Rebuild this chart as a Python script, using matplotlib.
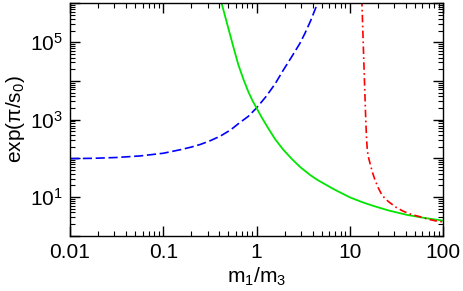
import numpy as np
import matplotlib
matplotlib.use("Agg")
import matplotlib.pyplot as plt
from matplotlib.ticker import LogLocator, FuncFormatter, NullFormatter

plt.rcParams['font.family'] = ['Liberation Sans', 'DejaVu Sans']
plt.rcParams['mathtext.fontset'] = 'custom'
plt.rcParams['mathtext.rm'] = 'Liberation Sans'
plt.rcParams['mathtext.it'] = 'Liberation Sans'

# Dados
x_azul = [0.01, 0.0178, 0.0316, 0.0562, 0.1, 0.151, 0.2, 0.251, 0.316, 0.407,
          0.525, 0.66, 0.813, 1.0, 1.26, 1.58, 1.94, 2.38, 2.92, 3.31, 3.80,
          4.42, 4.62]
y_azul = [98, 100, 105, 115, 135, 166, 195, 229, 282, 372,
          537, 832, 1202, 1995, 3890, 8320, 19050, 41700, 93300, 170000, 355000,
          891000, 1.17e6]

x_verde = [0.407, 0.423, 0.468, 0.520, 0.575, 0.638, 0.724, 0.817, 0.902, 1.0,
           1.148, 1.34, 1.578, 1.94, 2.40, 2.92, 3.75, 4.52, 5.43, 6.53, 7.85,
           10.07, 13.5, 17.9, 26.3, 40.7, 63.1, 93.3, 100]
y_verde = [1.38e6, 1.0e6, 4.07e5, 1.58e5, 6.46e4, 2.63e4, 1.10e4, 5250, 3160, 1995,
           1096, 589, 316, 166, 95.5, 60.3, 37.2, 27.5, 21.4, 16.6, 13.2,
           9.77, 7.41, 5.89, 4.47, 3.47, 2.88, 2.51, 2.45]

x_verm = [13.40, 13.52, 13.96, 14.39, 14.68, 14.90, 15.12, 15.40, 15.80, 16.48,
          17.50, 18.66, 20.18, 22.03, 24.27, 27.04, 31.6, 37.6, 45.7, 56.6,
          70.8, 89.1, 100]
y_verm = [1.58e6, 1.0e6, 89100, 9550, 2200, 800, 350, 170, 110, 75,
          43.7, 27.5, 17.4, 11.5, 8.71, 7.08, 5.37, 4.27, 3.55, 3.09,
          2.63, 2.34, 2.29]

fig = plt.figure(figsize=(4.63, 2.91), dpi=100)
ax = fig.add_axes([0.1512, 0.190, 0.8056, 0.798])

ax.plot(x_azul, y_azul, color='#0000ff', lw=1.2, ls=(0, (5.5, 2.2)))
ax.plot(x_verde, y_verde, color='#00e600', lw=1.3)
ax.plot(x_verm, y_verm, color='#ff0000', lw=1.2, ls=(0, (4.5, 2, 1, 2)))

ax.set_xscale('log')
ax.set_yscale('log')
ax.set_xlim(0.01, 100)
ax.set_ylim(1, 1e6)

ax.xaxis.set_major_locator(LogLocator(base=10, numticks=10))
ax.xaxis.set_minor_locator(LogLocator(base=10, subs=np.arange(2, 10), numticks=50))
ax.xaxis.set_major_formatter(FuncFormatter(lambda v, p: {0.01: '0.01', 0.1: '0.1', 1: '1', 10: '10', 100: '100'}.get(round(v, 4), '')))
ax.xaxis.set_minor_formatter(NullFormatter())

ax.yaxis.set_major_locator(LogLocator(base=10, numticks=10))
ax.yaxis.set_minor_locator(LogLocator(base=10, subs=np.arange(2, 10), numticks=50))

def rotulo_y(v, p):
    e = int(round(np.log10(v)))
    if e % 2 == 1:
        return r'$10^{%d}$' % e
    return ''

ax.yaxis.set_major_formatter(FuncFormatter(rotulo_y))
ax.yaxis.set_minor_formatter(NullFormatter())

ax.tick_params(which='both', direction='in', top=True, right=True, labelsize=15)
ax.tick_params(which='major', length=7, width=1.0, pad=5)
ax.tick_params(which='minor', length=3.5, width=0.8)
for s in ax.spines.values():
    s.set_linewidth(1.0)

ax.set_xlabel(r'm$_1$/m$_3$', fontsize=15, labelpad=3)
ax.set_ylabel(r'exp($\pi$/s$_0$)', fontsize=15, labelpad=2)

fig.savefig('out.png', dpi=100)
